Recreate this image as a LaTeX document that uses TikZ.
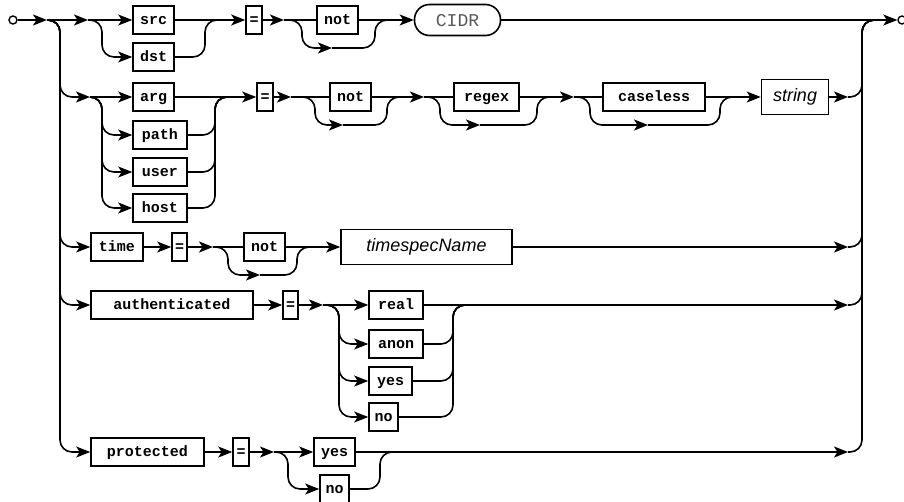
\documentclass[tikz,border=0pt]{standalone}
\usepackage{fontspec}
\setmonofont{Liberation Mono}
\newfontfamily\sansit{Liberation Sans}
\usetikzlibrary{arrows.meta}
\begin{document}
\begin{tikzpicture}[x=1pt,y=-1pt,
 ln/.style={line width=1.6pt, rounded corners=12pt},
 ar/.style={ln, -{Stealth[length=14pt,width=11pt,inset=3.5pt]}},
 kw/.style={draw, line width=1.6pt, inner sep=0pt, minimum height=28pt, minimum width=#1pt,
   font=\ttfamily\bfseries\fontsize{15pt}{15pt}\selectfont, text height=11pt, text depth=3pt},
 nt/.style={draw, line width=1.6pt, inner sep=0pt, minimum height=35pt, minimum width=#1pt,
   font=\sansit\itshape\fontsize{18pt}{18pt}\selectfont, text height=13pt, text depth=4pt},
 term/.style={draw, line width=1.6pt, rounded corners=15pt, minimum width=86pt, minimum height=31pt,
   inner sep=0pt, text=black!65, font=\ttfamily\fontsize{18pt}{18pt}\selectfont, text height=12pt, text depth=0pt},
 dot/.style={circle, draw, line width=1.4pt, inner sep=0pt, minimum size=8pt}
]
\useasboundingbox (0,0) rectangle (904,501);
% ---------- nodes
\node[dot] (start) at (13,20) {};
\node[dot] (endc) at (902,20) {};
\node[kw=41] (src) at (153.5,20) {src};
\node[kw=41] (dst) at (153.5,57) {dst};
\node[kw=16] (eq1) at (254,20) {=};
\node[kw=41] (not1) at (337.5,20) {not};
\node[term] (cidr) at (457.5,20) {CIDR};
\node[kw=41] (narg) at (153.5,97) {arg};
\node[kw=54] (npath) at (160,135) {path};
\node[kw=54] (nuser) at (160,172) {user};
\node[kw=54] (nhost) at (160,208) {host};
\node[kw=16] (eq2) at (265,97) {=};
\node[kw=41] (not2) at (350.5,97) {not};
\node[kw=65] (regex) at (486.5,97) {regex};
\node[kw=102] (caseless) at (654,97) {caseless};
\node[nt=67] (nstring) at (795,97) {string};
\node[kw=52] (ntime) at (117,247) {time};
\node[kw=15] (eq3) at (179.5,247) {=};
\node[kw=41] (not3) at (264.5,247) {not};
\node[nt=171] (timespec) at (426.5,247) {timespecName};
\node[kw=162] (auth) at (172,305) {authenticated};
\node[kw=15] (eq4) at (290.5,305) {=};
\node[kw=54] (real) at (396,305) {real};
\node[kw=54] (anon) at (396,344) {anon};
\node[kw=43] (ayes) at (390.5,381) {yes};
\node[kw=29] (ano) at (383.5,417) {no};
\node[kw=113] (prot) at (147.5,452) {protected};
\node[kw=16] (eq5) at (241,452) {=};
\node[kw=41] (pyes) at (334.5,452) {yes};
\node[kw=29] (pno) at (334.5,489) {no};
% ---------- coordinates
\coordinate (vL) at (60,0);
\coordinate (vR) at (862,0);
\coordinate (v1) at (102,0);
\coordinate (v2) at (205,0);
\coordinate (v3) at (215,0);
\coordinate (v4) at (339,0);
\coordinate (v5) at (453,0);
\coordinate (v6) at (288,0);
\coordinate (v7) at (380,0);
\coordinate (j0) at (47,20);
\coordinate (j1) at (88,20);
\coordinate (m1) at (218,20);
\coordinate (j3) at (284,20);
\coordinate (b1s) at (302,48);
\coordinate (b1) at (332,48);
\coordinate (m2c) at (375,20);
\coordinate (m2) at (388,20);
\coordinate (rEnd) at (876,20);
\coordinate (j4) at (90,97);
\coordinate (m3) at (228,97);
\coordinate (j5) at (291,97);
\coordinate (b2s) at (315,125);
\coordinate (b2) at (343,125);
\coordinate (m4c) at (387,97);
\coordinate (m4) at (400,97);
\coordinate (j6) at (424,97);
\coordinate (b3s) at (440,125);
\coordinate (b3) at (480,125);
\coordinate (m5c) at (537,97);
\coordinate (m5) at (550,97);
\coordinate (j7) at (574,97);
\coordinate (b4s) at (590,125);
\coordinate (b4) at (648,125);
\coordinate (m6c) at (720,97);
\coordinate (m6) at (733,97);
\coordinate (r2) at (848,97);
\coordinate (j8) at (213,247);
\coordinate (b5s) at (228,275);
\coordinate (b5) at (260,275);
\coordinate (m7c) at (297,247);
\coordinate (m7) at (310,247);
\coordinate (r3) at (848,247);
\coordinate (j9) at (323,305);
\coordinate (m8) at (466,305);
\coordinate (r4) at (848,305);
\coordinate (j10) at (274,452);
\coordinate (m9) at (393,452);
\coordinate (r5) at (848,452);
% ---------- row 1
\draw[ar] (start.east) -- (j0);
\draw[ar] (j0) -- (j1);
\draw[ar] (j1) -- (src.west);
\draw[ar] (j1) -| (v1 |- dst.west) -- (dst.west);
\draw[ln] (dst.east) -| (v2 |- src.east) -- (m1);
\draw[ar] (src.east) -- (eq1.west);
\draw[ar] (eq1.east) -- (j3);
\draw[ln] (j3) -- (not1.west);
\draw[ar] (j3) -| (b1s) -- (b1);
\draw[ln] (b1) -| (m2c) -- (m2);
\draw[ar] (not1.east) -- (cidr.west);
\draw[ar] (cidr.east) -- (endc.west);
% ---------- row 2
\draw[ar] (j0) -| (vL |- j4) -- (j4);
\draw[ar] (j4) -- (narg.west);
\draw[ar] (j4) -| (v1 |- npath.west) -- (npath.west);
\draw[ar] (j4) -| (v1 |- nuser.west) -- (nuser.west);
\draw[ar] (j4) -| (v1 |- nhost.west) -- (nhost.west);
\draw[ln] (npath.east) -| (v3 |- narg.east) -- (m3);
\draw[ln] (nuser.east) -| (v3 |- narg.east) -- (m3);
\draw[ln] (nhost.east) -| (v3 |- narg.east) -- (m3);
\draw[ar] (narg.east) -- (eq2.west);
\draw[ar] (eq2.east) -- (j5);
\draw[ln] (j5) -- (not2.west);
\draw[ar] (j5) -| (b2s) -- (b2);
\draw[ln] (b2) -| (m4c) -- (m4);
\draw[ar] (not2.east) -- (j6);
\draw[ln] (j6) -- (regex.west);
\draw[ar] (j6) -| (b3s) -- (b3);
\draw[ln] (b3) -| (m5c) -- (m5);
\draw[ar] (regex.east) -- (j7);
\draw[ln] (j7) -- (caseless.west);
\draw[ar] (j7) -| (b4s) -- (b4);
\draw[ln] (b4) -| (m6c) -- (m6);
\draw[ar] (caseless.east) -- (nstring.west);
\draw[ar] (nstring.east) -- (r2);
\draw[ln] (r2) -| (vR |- j0) -- (rEnd);
% ---------- row 3
\draw[ar] (j0) -| (vL |- ntime.west) -- (ntime.west);
\draw[ar] (ntime.east) -- (eq3.west);
\draw[ar] (eq3.east) -- (j8);
\draw[ln] (j8) -- (not3.west);
\draw[ar] (j8) -| (b5s) -- (b5);
\draw[ln] (b5) -| (m7c) -- (m7);
\draw[ar] (not3.east) -- (timespec.west);
\draw[ar] (timespec.east) -- (r3);
\draw[ln] (r3) -| (vR |- j0) -- (rEnd);
% ---------- row 4
\draw[ar] (j0) -| (vL |- auth.west) -- (auth.west);
\draw[ar] (auth.east) -- (eq4.west);
\draw[ar] (eq4.east) -- (j9);
\draw[ar] (j9) -- (real.west);
\draw[ar] (j9) -| (v4 |- anon.west) -- (anon.west);
\draw[ar] (j9) -| (v4 |- ayes.west) -- (ayes.west);
\draw[ar] (j9) -| (v4 |- ano.west) -- (ano.west);
\draw[ln] (anon.east) -| (v5 |- real.east) -- (m8);
\draw[ln] (ayes.east) -| (v5 |- real.east) -- (m8);
\draw[ln] (ano.east) -| (v5 |- real.east) -- (m8);
\draw[ar] (real.east) -- (r4);
\draw[ln] (r4) -| (vR |- j0) -- (rEnd);
% ---------- row 5
\draw[ar] (j0) -| (vL |- prot.west) -- (prot.west);
\draw[ar] (prot.east) -- (eq5.west);
\draw[ar] (eq5.east) -- (j10);
\draw[ar] (j10) -- (pyes.west);
\draw[ar] (j10) -| (v6 |- pno.west) -- (pno.west);
\draw[ln] (pno.east) -| (v7 |- pyes.east) -- (m9);
\draw[ar] (pyes.east) -- (r5);
\draw[ln] (r5) -| (vR |- j0) -- (rEnd);
\end{tikzpicture}
\end{document}
